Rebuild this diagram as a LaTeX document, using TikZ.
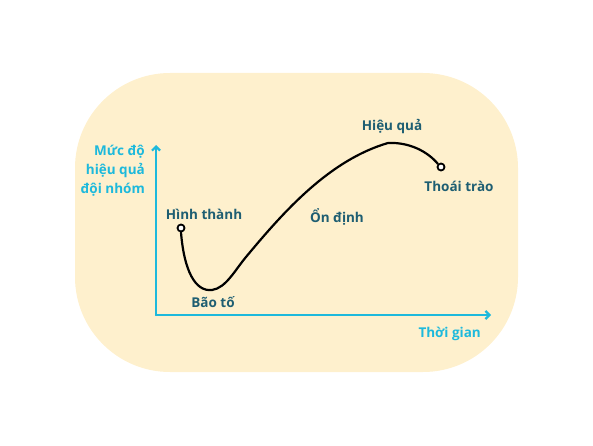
\documentclass[tikz,border=0pt]{standalone}
\usepackage{fontspec}
\setmainfont{Open Sans}
\usetikzlibrary{arrows.meta}
\definecolor{bgcream}{HTML}{FEF0CD}
\definecolor{axiscyan}{HTML}{1DB9DC}
\definecolor{labelteal}{HTML}{1E5E72}
\tikzset{
  axisline/.style={draw=axiscyan,line width=2.4pt,-{Straight Barb[length=4pt,width=8pt,line width=2.2pt]},line cap=round,line join=round},
  axislabel/.style={text=axiscyan,font=\fontsize{13.5}{19}\selectfont\bfseries,inner sep=0pt},
  stagelabel/.style={text=labelteal,font=\fontsize{13.5}{15}\selectfont\bfseries,inner sep=0pt},
  curveline/.style={draw=black,line width=2.2pt,line cap=round},
  endpt/.style={circle,draw=black,fill=white,line width=1.8pt,minimum size=7pt,inner sep=0pt}
}
\begin{document}
\begin{tikzpicture}[x=1pt,y=-1pt]
\useasboundingbox (0,0) rectangle (593,446);
\fill[bgcream,rounded corners=95pt] (75,73) rectangle (518,372);
% axes
\coordinate (origin) at (156,315);
\coordinate (ytip) at (156,145);
\coordinate (xtip) at (491,315);
\draw[axisline] (origin) -- (ytip);
\draw[axisline] (origin) -- (xtip);
\node[axislabel,align=right,anchor=north east] (ylab) at (145,145) {Mức độ\\hiệu quả\\đội nhóm};
\node[axislabel,anchor=base east] (xlab) at (481,337) {Thời gian};
% curve
\node[endpt] (start) at (181,228) {};
\node[endpt] (finish) at (441,167) {};
\draw[curveline] (start.south) .. controls (184,270) and (195,292) .. (212,290)
  .. controls (226,288) and (235,270) .. (246,257)
  .. controls (285,210) and (330,160) .. (388,143)
  .. controls (410,142) and (428,152) .. (finish.north west);
% stage labels
\node[stagelabel,anchor=base] (l1) at (204,219) {Hình thành};
\node[stagelabel,anchor=base] (l2) at (213,307) {Bão tố};
\node[stagelabel,anchor=base] (l3) at (337,222) {Ổn định};
\node[stagelabel,anchor=base] (l4) at (392,131) {Hiệu quả};
\node[stagelabel,anchor=base] (l5) at (459,191) {Thoái trào};
\end{tikzpicture}
\end{document}
